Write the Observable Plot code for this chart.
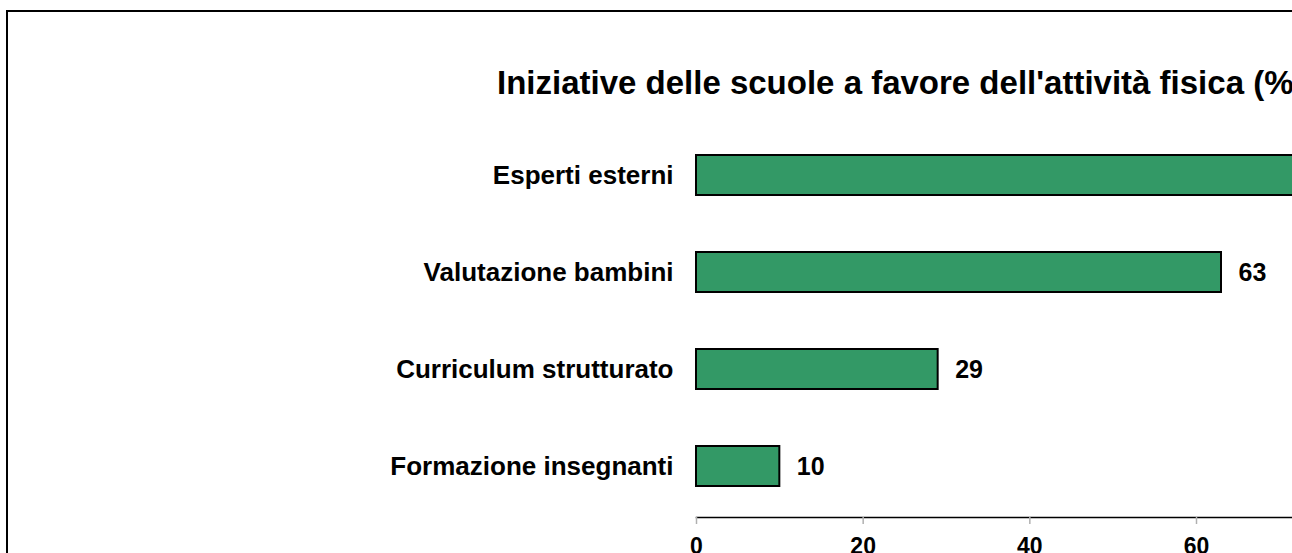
<!DOCTYPE html>
<html>
<head>
<meta charset="utf-8">
<script src="https://cdn.jsdelivr.net/npm/d3@7"></script>
<script src="https://cdn.jsdelivr.net/npm/@observablehq/plot@0.6"></script>
<style>
  html, body { margin: 0; padding: 0; background: #fff; overflow: hidden; }
  #wrap { position: relative; width: 1292px; height: 553px; overflow: hidden; }
  #chart { position: absolute; left: 0; top: 0; width: 1292px; height: 553px; }
  #border { position: absolute; left: 6px; top: 10px; width: 1286px; height: 543px; border-left: 2px solid #000; border-top: 2px solid #000; box-sizing: border-box; pointer-events: none; }
  #title { position: absolute; left: 497px; top: 66px; line-height: 1; white-space: nowrap; font-family: "Liberation Sans", Arial, sans-serif; font-weight: bold; font-size: 33px; color: #000; }
</style>
</head>
<body>
<div id="wrap">
  <div id="chart"></div>
  <div id="border"></div>
  <div id="title">Iniziative delle scuole a favore dell'attività fisica (%)</div>
</div>
<script>
const categories = ["Esperti esterni", "Valutazione bambini", "Curriculum strutturato", "Formazione insegnanti"];
const values = [80, 63, 29, 10];
const xTicks = [0, 20, 40, 60, 80];

const data = categories.map((c, i) => ({category: c, value: values[i]}));

const chart = Plot.plot({
  width: 1292,
  height: 553,
  marginLeft: 696,
  marginRight: 0,
  marginTop: 0,
  marginBottom: 36,
  style: {fontFamily: "'Liberation Sans', Arial, sans-serif", color: "#000", background: "transparent", overflow: "hidden", maxWidth: "none"},
  x: {domain: [0, 84], range: [696, 1396]},
  y: {domain: categories, range: [95, 545], padding: 0.592},
  marks: [
    Plot.frame({anchor: "bottom", stroke: "#000", strokeWidth: 1.5}),
    Plot.barX(data, {x: "value", y: "category", fill: "#339966", stroke: "#000", strokeWidth: 2}),
    Plot.text(data, {x: "value", y: "category", text: d => String(d.value), textAnchor: "start", dx: 17, fontSize: 25, fontWeight: "bold", fill: "#000"}),
    Plot.axisY({tickSize: 0, tickPadding: 23, fontSize: 26, fontWeight: "bold", fill: "#000", label: null}),
    Plot.axisX({ticks: xTicks, tickSize: 7, stroke: "#b0b0b0", strokeWidth: 1.5, tickPadding: 13, fontSize: 23, fontWeight: "bold", fill: "#000", label: null})
  ]
});
document.getElementById("chart").appendChild(chart);
</script>
</body>
</html>
